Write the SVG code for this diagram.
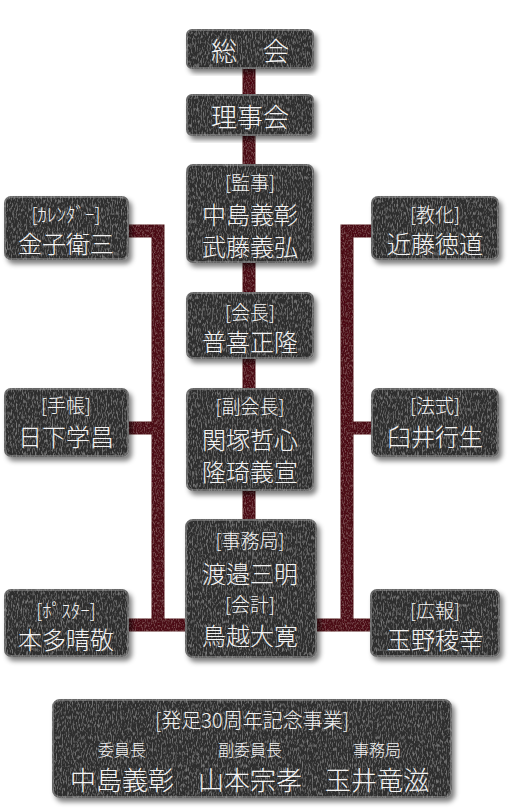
<svg xmlns="http://www.w3.org/2000/svg" width="510" height="810" viewBox="0 0 510 810">
<defs>
<filter id="tex" x="-10%" y="-10%" width="125%" height="130%">
  <feGaussianBlur in="SourceAlpha" stdDeviation="2.5"/>
  <feOffset dx="3" dy="4" result="sb"/>
  <feFlood flood-color="#000" flood-opacity="0.5"/>
  <feComposite in2="sb" operator="in" result="shadow"/>
  <feTurbulence type="fractalNoise" baseFrequency="0.8 0.25" numOctaves="2" seed="4" result="n"/>
  <feColorMatrix in="n" type="matrix" values="0 0 0 0 0.65  0 0 0 0 0.65  0 0 0 0 0.65  0.8 0 0 0 -0.38" result="sp"/>
  <feComposite in="sp" in2="SourceAlpha" operator="in" result="spk"/>
  <feMerge><feMergeNode in="shadow"/><feMergeNode in="SourceGraphic"/><feMergeNode in="spk"/></feMerge>
</filter>
<filter id="ctex" filterUnits="userSpaceOnUse" x="0" y="0" width="510" height="810">
  <feTurbulence type="fractalNoise" baseFrequency="0.9 0.4" numOctaves="2" seed="7" result="n"/>
  <feColorMatrix in="n" type="matrix" values="0 0 0 0 0.55  0 0 0 0 0.25  0 0 0 0 0.27  0.9 0 0 0 -0.42" result="sp"/>
  <feComposite in="sp" in2="SourceAlpha" operator="in" result="spk"/>
  <feMerge><feMergeNode in="SourceGraphic"/><feMergeNode in="spk"/></feMerge>
</filter>
</defs>
<style>
.box{fill:#2f2f2f;stroke:#666666;stroke-width:2;filter:url(#tex)}
text{font-family:"Noto Sans CJK JP","Noto Sans",sans-serif;font-weight:300;fill:#f4f4f4;text-anchor:middle;dominant-baseline:central}
.t{font-size:19px}
.n{font-size:24px}
.b{font-size:26px}
.s{font-size:16px}
.h{font-size:20px}
.c{fill:none;stroke:#4c1117;stroke-width:13;stroke-linejoin:miter}
</style>
<rect width="510" height="810" fill="#ffffff"/>
<g id="connectors" filter="url(#ctex)">
  <path class="c" d="M249,68 V520"/>
  <path class="c" d="M128,231 H158 V625"/>
  <path class="c" d="M128,428 H158"/>
  <path class="c" d="M128,625 H187"/>
  <path class="c" d="M372,231 H347 V625"/>
  <path class="c" d="M347,428 H372"/>
  <path class="c" d="M315,625 H372"/>
</g>
<g id="soukai"><rect class="box" x="187" y="30" width="126" height="38" rx="5"/><text class="b" x="250" y="49">総　会</text></g>
<g id="rijikai"><rect class="box" x="187" y="95" width="126" height="40" rx="5"/><text class="b" x="250" y="115">理事会</text></g>
<g id="kanji"><rect class="box" x="187" y="165" width="126" height="97" rx="6"/><text class="t" x="250" y="181">[監事]</text><text class="n" x="250" y="213">中島義彰</text><text class="n" x="250" y="245">武藤義弘</text></g>
<g id="calendar"><rect class="box" x="5" y="197" width="123" height="62" rx="6"/><text class="t" x="66" y="213">[ｶﾚﾝﾀﾞｰ]</text><text class="n" x="66" y="242">金子衛三</text></g>
<g id="kyouka"><rect class="box" x="372" y="197" width="126" height="62" rx="6"/><text class="t" x="435" y="213">[教化]</text><text class="n" x="435" y="242">近藤徳道</text></g>
<g id="kaichou"><rect class="box" x="187" y="293" width="126" height="65" rx="6"/><text class="t" x="250" y="311">[会長]</text><text class="n" x="250" y="340">普喜正隆</text></g>
<g id="fukukaichou"><rect class="box" x="187" y="389" width="126" height="101" rx="6"/><text class="t" x="250" y="405">[副会長]</text><text class="n" x="250" y="438">関塚哲心</text><text class="n" x="250" y="470">隆琦義宣</text></g>
<g id="techou"><rect class="box" x="5" y="389" width="123" height="67" rx="6"/><text class="t" x="66" y="404">[手帳]</text><text class="n" x="66" y="435">日下学昌</text></g>
<g id="houshiki"><rect class="box" x="372" y="389" width="126" height="67" rx="6"/><text class="t" x="435" y="404">[法式]</text><text class="n" x="435" y="435">臼井行生</text></g>
<g id="jimukyoku"><rect class="box" x="186" y="520" width="130" height="137" rx="7"/><text class="t" x="250" y="539">[事務局]</text><text class="n" x="250" y="572">渡邉三明</text><text class="t" x="250" y="603">[会計]</text><text class="n" x="250" y="634">鳥越大寛</text></g>
<g id="poster"><rect class="box" x="5" y="590" width="123" height="66" rx="6"/><text class="t" x="66" y="609">[ﾎﾟｽﾀｰ]</text><text class="n" x="66" y="638">本多晴敬</text></g>
<g id="kouhou"><rect class="box" x="371" y="590" width="128" height="66" rx="6"/><text class="t" x="435" y="609">[広報]</text><text class="n" x="435" y="638">玉野稜幸</text></g>
<g id="kinen"><rect class="box" x="53" y="700" width="398" height="97" rx="7"/>
  <text class="h" x="252" y="719">[発足30周年記念事業]</text>
  <text class="s" x="122" y="749">委員長</text><text class="s" x="250" y="749">副委員長</text><text class="s" x="377" y="749">事務局</text>
  <text class="b" x="122" y="778">中島義彰</text><text class="b" x="250" y="778">山本宗孝</text><text class="b" x="377" y="778">玉井竜滋</text>
</g>
</svg>
